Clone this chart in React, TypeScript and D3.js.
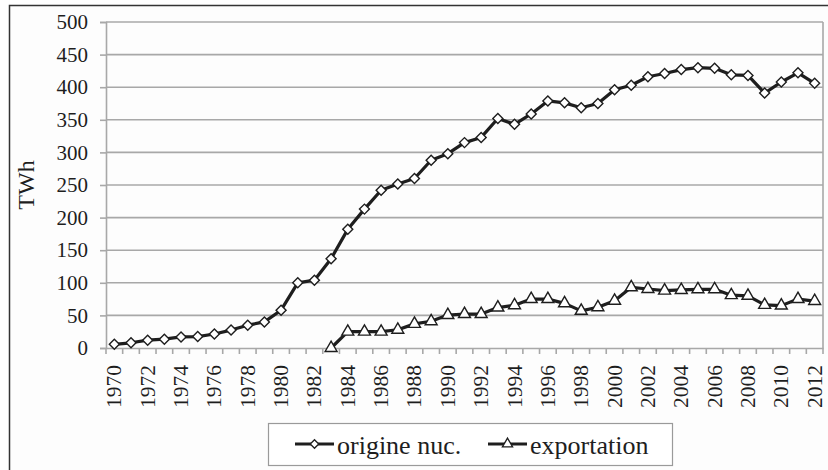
import React, { useRef, useEffect } from 'react';
import { select, scaleBand, scaleLinear, line, symbol, symbolSquare, symbolTriangle, axisLeft, axisBottom } from 'd3';

const width = 828;
const height = 470;
const margin = { left: 106, right: 5, top: 22, bottom: 122 };

const years = Array.from({ length: 43 }, (_, i) => String(1970 + i));
const nuclear = [
  5.7, 8, 12, 13.5, 17, 17.5, 21.5, 27.5, 35, 40,
  58, 100, 104, 137, 182, 213, 242, 251.5, 260, 288,
  298, 315, 323, 352, 343, 359, 379, 376, 368.5, 375,
  396, 403, 416, 421, 427, 430, 429, 419, 418, 391,
  408, 422, 406,
];
const exportYears = years.slice(13);
const exportation = [
  0, 25, 25, 25, 28, 37, 41, 50.5, 52, 52,
  62, 65.5, 75, 75, 68.5, 57, 62.5, 72.5, 93, 90.5,
  88, 89, 90, 90, 81, 80, 66, 65, 75, 72,
];
const yTicks = [0, 50, 100, 150, 200, 250, 300, 350, 400, 450, 500];
const seriesNames = ['origine nuc.', 'exportation'];

const font = 'Liberation Serif, DejaVu Serif, serif';
const ink = '#1e1e1e';
const grid = '#a8a8a8';

const App = () => {
  const ref = useRef(null);

  useEffect(() => {
    const svg = select(ref.current);
    svg.selectAll('*').remove();

    const x = scaleBand().domain(years).range([margin.left, width - margin.right]).padding(0);
    const y = scaleLinear().domain([0, 500]).range([height - margin.bottom, margin.top]);
    const cx = d => x(d) + x.bandwidth() / 2;

    // outer frame
    svg.append('rect')
      .attr('x', 9.5).attr('y', 5.5)
      .attr('width', 830).attr('height', 470)
      .attr('fill', '#fdfdfd')
      .attr('stroke', '#333').attr('stroke-width', 1.5);

    // gridlines
    svg.append('g')
      .selectAll('line')
      .data(yTicks.slice(1))
      .join('line')
      .attr('x1', margin.left).attr('x2', width - margin.right)
      .attr('y1', d => y(d)).attr('y2', d => y(d))
      .attr('stroke', grid).attr('stroke-width', 1.6);

    // right border of plot area
    svg.append('line')
      .attr('x1', width - margin.right).attr('x2', width - margin.right)
      .attr('y1', y(500)).attr('y2', y(0))
      .attr('stroke', grid).attr('stroke-width', 1.6);

    // y axis
    const gy = svg.append('g')
      .attr('transform', `translate(${margin.left},0)`)
      .call(axisLeft(y).tickValues(yTicks).tickSize(6).tickPadding(12))
      .attr('font-family', font)
      .attr('font-size', 21);
    gy.select('.domain').attr('stroke', grid).attr('stroke-width', 1.6);
    gy.selectAll('.tick line').attr('stroke', grid).attr('stroke-width', 1.6);
    gy.selectAll('.tick text').attr('fill', ink);

    // x axis: ticks on category boundaries, labels every second year
    const gx = svg.append('g')
      .attr('transform', `translate(0,${y(0)})`)
      .call(axisBottom(x).tickValues([]).tickSizeOuter(0))
      .attr('font-family', font)
      .attr('font-size', 21.5);
    gx.select('.domain').attr('stroke', grid).attr('stroke-width', 1.6);
    gx.selectAll('line.bound')
      .data(years.concat(['end']))
      .join('line')
      .attr('class', 'bound')
      .attr('x1', (d, i) => margin.left + i * x.bandwidth())
      .attr('x2', (d, i) => margin.left + i * x.bandwidth())
      .attr('y1', 0).attr('y2', 6)
      .attr('stroke', grid).attr('stroke-width', 1.6);
    gx.selectAll('text.yr')
      .data(years.filter((d, i) => i % 2 === 0))
      .join('text')
      .attr('class', 'yr')
      .attr('transform', d => `translate(${cx(d) + 7},17) rotate(-90)`)
      .attr('text-anchor', 'end')
      .attr('fill', ink)
      .text(d => d);

    // y title
    svg.append('text')
      .attr('transform', `translate(34,${y(250)}) rotate(-90)`)
      .attr('text-anchor', 'middle')
      .attr('fill', ink)
      .attr('font-family', font)
      .attr('font-size', 24)
      .text('TWh');

    const lineGen = line().x(d => cx(d[0])).y(d => y(d[1]));
    const diamond = symbol().type(symbolSquare).size(50);
    const triangle = symbol().type(symbolTriangle).size(62);

    const series = [
      { name: seriesNames[0], pts: years.map((d, i) => [d, nuclear[i]]), shape: diamond, rot: 45 },
      { name: seriesNames[1], pts: exportYears.map((d, i) => [d, exportation[i]]), shape: triangle, rot: 0 },
    ];

    series.forEach(s => {
      svg.append('path')
        .datum(s.pts)
        .attr('d', lineGen)
        .attr('fill', 'none')
        .attr('stroke', ink)
        .attr('stroke-width', 3.2)
        .attr('stroke-linejoin', 'round');
      svg.append('g')
        .selectAll('path')
        .data(s.pts)
        .join('path')
        .attr('d', s.shape)
        .attr('transform', d => `translate(${cx(d[0])},${y(d[1])}) rotate(${s.rot})`)
        .attr('fill', '#fff')
        .attr('stroke', ink)
        .attr('stroke-width', 1.4);
    });

    // legend
    const legend = svg.append('g').attr('transform', 'translate(268,423)');
    legend.append('rect')
      .attr('x', 0.5).attr('y', 0.5)
      .attr('width', 404).attr('height', 42)
      .attr('fill', '#fff')
      .attr('stroke', '#9a9a9a').attr('stroke-width', 1.2);
    const items = legend.selectAll('g.item')
      .data(series)
      .join('g')
      .attr('class', 'item')
      .attr('transform', (d, i) => `translate(${i === 0 ? 27 : 220},21)`);
    items.append('line')
      .attr('x1', 0).attr('x2', 39)
      .attr('stroke', ink).attr('stroke-width', 3.2);
    items.append('path')
      .attr('d', d => d.shape.size(d.rot ? 36 : 45)())
      .attr('transform', d => `translate(19.5,0) rotate(${d.rot})`)
      .attr('fill', '#fff')
      .attr('stroke', ink)
      .attr('stroke-width', 1.3);
    items.append('text')
      .attr('x', 42).attr('y', 10)
      .attr('fill', ink)
      .attr('font-family', font)
      .attr('font-size', 26)
      .text(d => d.name);
  }, []);

  return (
    <svg
      ref={ref}
      width={width}
      height={height}
      style={{ position: 'absolute', left: 0, top: 0, background: '#fff' }}
    />
  );
};

export default App;
